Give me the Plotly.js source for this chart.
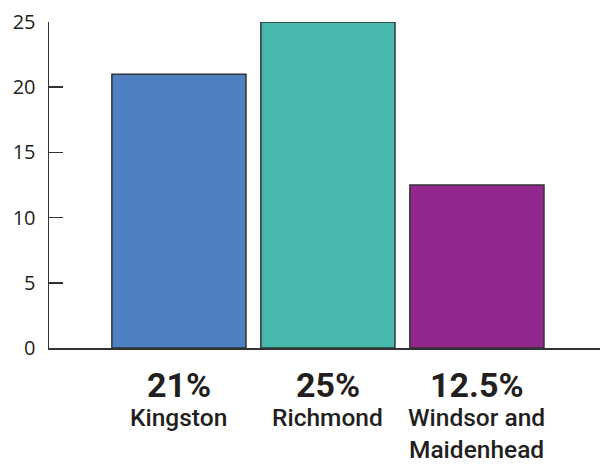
<!DOCTYPE html>
<html><head><meta charset="utf-8">
<script src="https://cdn.plot.ly/plotly-3.0.1.min.js"></script>
<style>html,body{margin:0;padding:0;background:#fff}</style>
</head><body><div id="chart" style="width:600px;height:464px"></div>
<script>
const categories = ["Kingston", "Richmond", "Windsor and Maidenhead"];
const nameLabels = ["Kingston", "Richmond", "Windsor and<br>Maidenhead"];
const percentLabels = ["21%", "25%", "12.5%"];
const values = [21, 25, 12.5];
const colors = ["#4f80c2", "#47b8ac", "#92278f"];
const yTicks = [0, 5, 10, 15, 20, 25];

const annotations = [];
categories.forEach((c, i) => {
  annotations.push({x: c, xref: 'x', y: 0, yref: 'paper', yanchor: 'middle', yshift: -37,
    text: '<b>' + percentLabels[i] + '</b>', showarrow: false,
    font: {family: 'Roboto', size: 34, color: '#231f20'}});
  annotations.push({x: c, xref: 'x', y: 0, yref: 'paper', yanchor: 'top', yshift: -53,
    text: nameLabels[i], showarrow: false,
    font: {family: 'Roboto', size: 24.5, weight: 500, color: '#231f20'}});
});

Plotly.newPlot('chart', [{
  type: 'bar', x: categories, y: values,
  marker: {color: colors, line: {color: '#333333', width: 1.5}},
  hoverinfo: 'none'
}], {
  width: 600, height: 464,
  margin: {l: 49, r: 0, t: 22, b: 116, pad: 0},
  paper_bgcolor: '#fff', plot_bgcolor: '#fff',
  showlegend: false, bargap: 0.1,
  xaxis: {type: 'category', range: [-0.872, 2.826], showticklabels: false, ticks: '',
    showline: true, linecolor: '#333', linewidth: 1.5, showgrid: false, zeroline: false},
  yaxis: {range: [0, 25], tickvals: yTicks, ticktext: yTicks.map(String),
    ticks: 'inside', ticklen: 14, tickwidth: 1.5, tickcolor: '#333',
    showline: true, linecolor: '#333', linewidth: 1.5, showgrid: false, zeroline: false,
    ticklabelstandoff: 8,
    tickfont: {family: 'Open Sans', size: 20, color: '#231f20'}},
  annotations: annotations
}, {staticPlot: true});
</script></body></html>
